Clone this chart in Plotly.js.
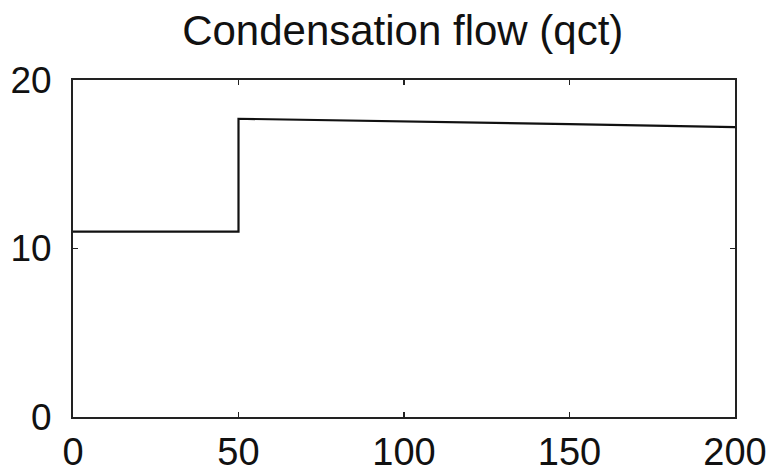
<!DOCTYPE html>
<html>
<head>
<meta charset="utf-8">
<script src="https://cdn.plot.ly/plotly-3.0.1.min.js"></script>
<style>
  html, body { margin: 0; padding: 0; background: #fff; }
  #chart { width: 779px; height: 474px; }
</style>
</head>
<body>
<div id="chart"></div>
<script>
// Condensation flow over time: step change at t = 50
const time = [0, 50, 50, 100, 150, 200];
const qct  = [11, 11, 17.7, 17.55, 17.38, 17.2];

const xTicks = [0, 50, 100, 150, 200];
const yTicks = [0, 10, 20];

const fontFamily = 'Liberation Sans, Arial, sans-serif';

const trace = {
  x: time,
  y: qct,
  type: 'scatter',
  mode: 'lines',
  line: { color: '#111', width: 2.2 },
  hoverinfo: 'skip'
};

const layout = {
  width: 779,
  height: 474,
  paper_bgcolor: '#fff',
  plot_bgcolor: '#fff',
  margin: { l: 73, r: 44, t: 80, b: 57 },
  showlegend: false,
  title: {
    text: 'Condensation flow (qct)',
    font: { family: fontFamily, size: 42, color: '#111' },
    x: 0.517, xanchor: 'center',
    y: 0.937, yanchor: 'middle'
  },
  xaxis: {
    range: [0, 200],
    tickvals: xTicks,
    ticktext: xTicks.map(String),
    ticks: 'inside',
    ticklen: 5,
    tickwidth: 1.5,
    tickcolor: '#222',
    showline: true,
    linecolor: '#222',
    linewidth: 2,
    mirror: 'allticks',
    showgrid: false,
    zeroline: false,
    tickfont: { family: fontFamily, size: 38, color: '#111' },
    ticklabelstandoff: 0
  },
  yaxis: {
    range: [0, 20],
    tickvals: yTicks,
    ticktext: yTicks.map(String),
    ticks: 'inside',
    ticklen: 5,
    tickwidth: 1.5,
    tickcolor: '#222',
    showline: true,
    linecolor: '#222',
    linewidth: 2,
    mirror: 'allticks',
    showgrid: false,
    zeroline: false,
    tickfont: { family: fontFamily, size: 37, color: '#111' },
    ticklabelstandoff: 12
  }
};

Plotly.newPlot('chart', [trace], layout, { staticPlot: true, displayModeBar: false });
</script>
</body>
</html>
